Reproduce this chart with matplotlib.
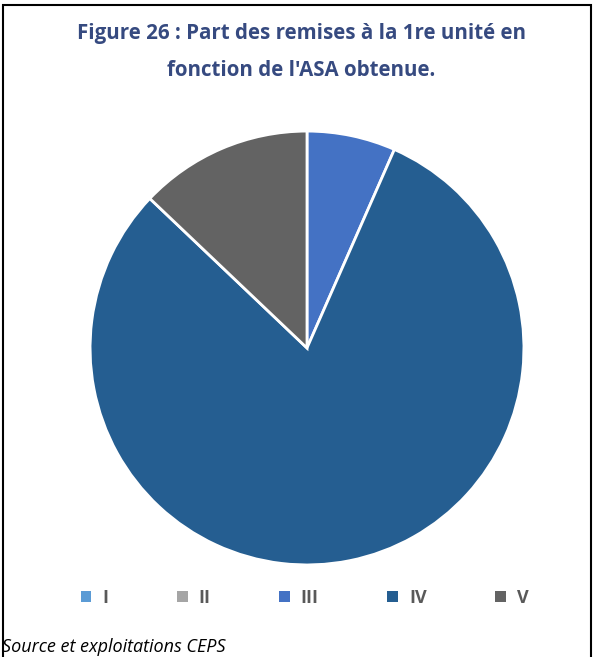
import matplotlib.pyplot as plt
from matplotlib.patches import Rectangle, Patch

labels = ['I', 'II', 'III', 'IV', 'V']
parts = [0.0, 0.0, 6.6, 80.5, 12.9]
colors = ['#5b9bd5', '#a5a5a5', '#4472c4', '#255e91', '#636363']

fig = plt.figure(figsize=(5.94, 6.57), dpi=100)

# cadre noir autour du graphique
fig.patches.append(Rectangle((0.005, -0.1), 0.99, 1.093, transform=fig.transFigure,
                             fill=False, edgecolor='black', linewidth=1.5))

ax = fig.add_axes([307 / 594 - 218 / 594, 1 - 566 / 657, 436 / 594, 436 / 657])
ax.pie(parts, colors=colors, startangle=90, counterclock=False,
       wedgeprops=dict(edgecolor='white', linewidth=2))
ax.set_xlim(-1.005, 1.005)
ax.set_ylim(-1.005, 1.005)
ax.set_aspect('equal')

fig.text(0.507, 1 - 33 / 657, "Figure 26 : Part des remises à la 1re unité en",
         ha='center', va='center', fontsize=14.8, fontweight='bold',
         color='#364a80', family='Open Sans')
fig.text(0.507, 1 - 70 / 657, "fonction de l'ASA obtenue.",
         ha='center', va='center', fontsize=14.8, fontweight='bold',
         color='#364a80', family='Open Sans')

handles = [Patch(facecolor=c, edgecolor='none') for c in colors]
leg = fig.legend(handles, labels, loc='center', bbox_to_anchor=(0.513, 1 - 598 / 657),
                 ncol=5, frameon=False, handlelength=0.6, handleheight=0.6,
                 columnspacing=3.8, handletextpad=0.6,
                 prop=dict(family='Open Sans', weight='bold', size=13))
for t in leg.get_texts():
    t.set_color('#595959')

fig.text(0.004, 1 - 647 / 657, "Source et exploitations CEPS", ha='left', va='center',
         fontsize=13, style='italic', color='black', family='Open Sans')

fig.savefig('out.png', dpi=100)
